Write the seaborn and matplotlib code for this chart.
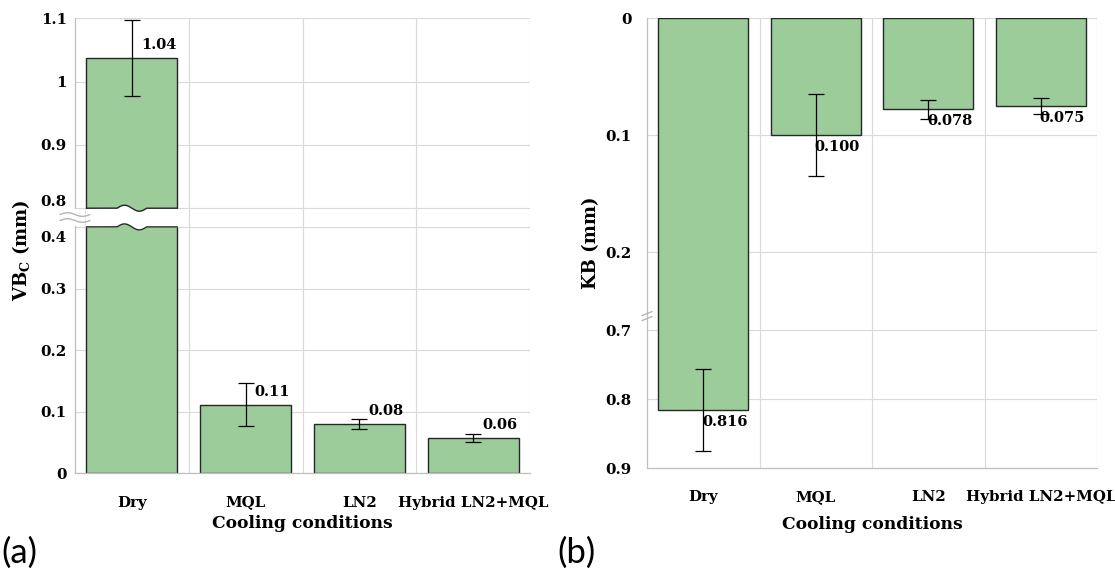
import numpy as np
import matplotlib
matplotlib.use("Agg")
import matplotlib.pyplot as plt
import seaborn as sns
from matplotlib.ticker import FixedLocator, NullFormatter
from matplotlib.transforms import ScaledTranslation
from matplotlib.patches import Rectangle

# ---- data -------------------------------------------------------------
conditions = ["Dry", "MQL", "LN2", "Hybrid LN2+MQL"]

vbc_mean = [1.037, 0.111, 0.080, 0.057]      # flank wear VBc (mm)
vbc_err = [0.06, 0.035, 0.008, 0.0065]
vbc_ticks = [0, 0.1, 0.2, 0.3, 0.4, 0.8, 0.9, 1.0, 1.1]
vbc_tick_labels = ["0", "0.1", "0.2", "0.3", "0.4", "0.8", "0.9", "1", "1.1"]
vbc_minor = [0.05, 0.15, 0.25, 0.35, 0.85, 0.95, 1.05]

kb_mean = [0.816, 0.100, 0.078, 0.075]       # crater width KB (mm)
kb_err = [0.06, 0.035, 0.008, 0.007]
kb_ticks = [0, 0.1, 0.2, 0.7, 0.8, 0.9]
kb_tick_labels = ["0", "0.1", "0.2", "0.7", "0.8", "0.9"]
kb_minor = [0.05, 0.15, 0.75, 0.85]

# ---- style ------------------------------------------------------------
sns.set_style("white")
plt.rcParams["font.family"] = ["DejaVu Serif"]
plt.rcParams["mathtext.fontset"] = "dejavuserif"
plt.rcParams["text.color"] = "black"
plt.rcParams["axes.labelcolor"] = "black"

GREEN = "#9BCC9A"
EDGE = "#262626"
GRID = "#D9D9D9"
AXIS = "#BFBFBF"
FS = 10.8
FS_VAL = 10.5

W, H = 1115, 576
fig = plt.figure(figsize=(W / 100, H / 100), dpi=100)


def px_axes(x0, y0, x1, y1):
    """Axes placed by pixel box (top-left origin)."""
    return fig.add_axes([x0 / W, 1 - y1 / H, (x1 - x0) / W, (y1 - y0) / H])


def piecewise_scale(knots, spans):
    """Piecewise-linear axis mapping used to build a broken value axis."""
    ky = np.asarray(knots, float)
    kf = np.concatenate([[0.0], np.cumsum(spans)])
    s0 = (kf[1] - kf[0]) / (ky[1] - ky[0])
    s1 = (kf[-1] - kf[-2]) / (ky[-1] - ky[-2])

    def fwd(y):
        y = np.asarray(y, float)
        out = np.interp(y, ky, kf)
        out = np.where(y < ky[0], kf[0] + (y - ky[0]) * s0, out)
        return np.where(y > ky[-1], kf[-1] + (y - ky[-1]) * s1, out)

    def inv(f):
        f = np.asarray(f, float)
        out = np.interp(f, kf, ky)
        out = np.where(f < kf[0], ky[0] + (f - kf[0]) / s0, out)
        return np.where(f > kf[-1], ky[-1] + (f - kf[-1]) / s1, out)

    return fwd, inv, kf[-1]


def style_axes(ax, ticks, labels, minor, ylabel, ypad, ytick_len):
    ax.set_axisbelow(True)
    ax.yaxis.set_major_locator(FixedLocator(ticks))
    ax.set_yticklabels(labels)
    ax.yaxis.set_minor_locator(FixedLocator(minor))
    ax.yaxis.set_minor_formatter(NullFormatter())
    ax.xaxis.set_minor_locator(FixedLocator([0.5, 1.5, 2.5, 3.5]))
    ax.grid(True, axis="y", which="major", color=GRID, lw=0.8)
    ax.grid(True, axis="x", which="minor", color=GRID, lw=0.8)
    ax.grid(False, axis="x", which="major")
    for side in ("top", "right"):
        ax.spines[side].set_visible(False)
    for side in ("left", "bottom"):
        ax.spines[side].set_color(AXIS)
        ax.spines[side].set_linewidth(0.9)
    ax.tick_params(axis="y", which="major", direction="out", length=ytick_len,
                   width=0.8, color=AXIS, pad=ypad, labelsize=FS,
                   labelcolor="black")
    ax.tick_params(axis="y", which="minor", direction="in", length=3,
                   width=0.8, color=AXIS)
    ax.tick_params(axis="x", which="major", direction="out", length=4.5,
                   width=0.8, color=AXIS, pad=11.5, labelsize=FS,
                   labelcolor="black")
    ax.tick_params(axis="x", which="minor", length=0)
    for lab in ax.get_xticklabels() + ax.get_yticklabels():
        lab.set_fontweight("bold")
    ax.set_ylabel(ylabel, fontsize=13, fontweight="bold")
    ax.set_xlabel("Cooling conditions", fontsize=12.3, fontweight="bold")


# ---- (a) flank wear with broken axis ---------------------------------
axL = px_axes(75, 18.3, 530, 473.3)
sns.barplot(x=conditions, y=vbc_mean, ax=axL, color=GREEN, saturation=1,
            edgecolor=EDGE, linewidth=1.0, width=0.8, errorbar=None, zorder=1)
fwdL, invL, totL = piecewise_scale([0, 0.4, 0.8, 1.1], [246.4, 18.7, 189.9])
axL.set_yscale("function", functions=(fwdL, invL))
axL.set_ylim(0, 1.1)
axL.set_xlim(-0.5, 3.5)
axL.errorbar(range(len(conditions)), vbc_mean, yerr=vbc_err, fmt="none",
             ecolor="black", elinewidth=0.9, capsize=5.5, capthick=0.9, zorder=4)
for i, v in enumerate(vbc_mean):
    axL.annotate(f"{v:.2f}", xy=(i, v), xytext=(6.5, 9.4),
                 textcoords="offset points", ha="left", va="center",
                 fontsize=FS_VAL, fontweight="bold", zorder=5)
style_axes(axL, vbc_ticks, vbc_tick_labels, vbc_minor,
           r"$\mathbf{VB_C}$ (mm)", 1.5, 4.5)
axL.yaxis.set_label_coords(-0.095, 0.49)
axL.xaxis.set_label_coords(0.5, -0.092)

# cut through the tall bar between 0.4 and 0.8 with wavy edges
f04, f08 = float(fwdL(0.4)), float(fwdL(0.8))
xs = np.linspace(-0.412, 0.412, 400)
win = (xs > -0.13) & (xs < 0.13)
wave = np.where(win, 3.0 * np.sin(2 * np.pi * (xs + 0.13) / 0.26), 0.0)
low_edge = invL(f04 + wave)
up_edge = invL(f08 + wave)
axL.fill_between(xs, low_edge, up_edge, color="white", lw=0, zorder=2)
inner = np.abs(xs) <= 0.4
axL.plot(xs[inner], low_edge[inner], color=EDGE, lw=1.0, zorder=3)
axL.plot(xs[inner], up_edge[inner], color=EDGE, lw=1.0, zorder=3)

# break symbol on the value axis
gap_lo, gap_hi = (f04 + 1) / totL, (f08 - 1) / totL
axL.add_patch(Rectangle((-0.006, gap_lo), 0.012, gap_hi - gap_lo,
                        transform=axL.transAxes, color="white", lw=0,
                        clip_on=False, zorder=3))
yc = (f04 + f08) / 2 / totL
bx = np.linspace(-15, 15, 60)
for dy in (-3.0, 3.0):
    by = dy + 1.8 * np.sin(2 * np.pi * (bx + 15) / 30)
    axL.plot(bx / 455, yc + by / 455, transform=axL.transAxes, color="#B5B5B5",
             lw=1.0, clip_on=False, zorder=4)

# ---- (b) crater width, inverted broken axis ---------------------------
axR = px_axes(647, 18.3, 1097, 468)
sns.barplot(x=conditions, y=kb_mean, ax=axR, color=GREEN, saturation=1,
            edgecolor=EDGE, linewidth=1.0, width=0.8, errorbar=None, zorder=1)
fwdR, invR, totR = piecewise_scale([0, 0.25, 0.6725, 0.9], [292.5, 0.5, 157.0])
axR.set_yscale("function", functions=(fwdR, invR))
axR.set_ylim(0.9, 0)
axR.set_xlim(-0.5, 3.5)
axR.errorbar(range(len(conditions)), kb_mean, yerr=kb_err, fmt="none",
             ecolor="black", elinewidth=0.9, capsize=6.1, capthick=0.9, zorder=4)
for i, v in enumerate(kb_mean):
    axR.annotate(f"{v:.3f}", xy=(i, v), xytext=(-0.7, -8.6),
                 textcoords="offset points", ha="left", va="center",
                 fontsize=FS_VAL, fontweight="bold", zorder=5)
style_axes(axR, kb_ticks, kb_tick_labels, kb_minor, "KB (mm)", 6, 5)
axR.yaxis.set_label_coords(-0.104, 0.5)
axR.xaxis.set_label_coords(0.5, -0.107)

# slanted break marks on the value axis
yb = 1 - (float(fwdR(0.25)) + 5.5) / totR
for dy in (-2.5, 2.5):
    axR.plot(np.array([-5, 5]) / 450, yb + (dy + np.array([-2, 2])) / 450,
             transform=axR.transAxes, color="#B5B5B5", lw=1.0,
             clip_on=False, zorder=4)

# panel tags
fig.text(1 / W, 1 - 553 / H, "(a)", fontsize=25, family="Lato", va="center")
fig.text(557 / W, 1 - 553 / H, "(b)", fontsize=25, family="Lato", va="center")

# separate the overlapping 0.4 / 0.8 labels at the break
fig.canvas.draw()
for tick in axL.yaxis.get_major_ticks():
    txt = tick.label1.get_text()
    if txt == "0.8":
        tick.label1.set_transform(tick.label1.get_transform()
                                  + ScaledTranslation(0, 0.08, fig.dpi_scale_trans))
    elif txt == "0.4":
        tick.label1.set_transform(tick.label1.get_transform()
                                  + ScaledTranslation(0, -0.10, fig.dpi_scale_trans))

fig.savefig("out.png", dpi=100)
